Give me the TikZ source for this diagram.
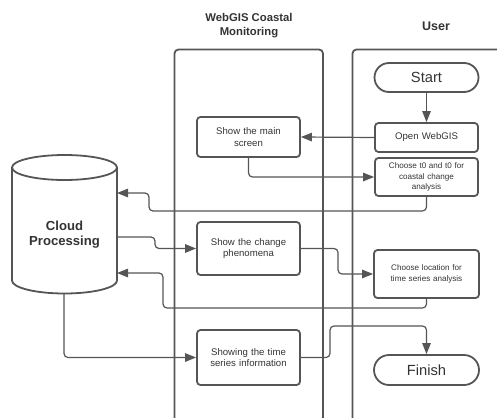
\documentclass[tikz,border=0pt]{standalone}
\usepackage{fontspec}
\setmainfont{Liberation Sans}
\usetikzlibrary{arrows.meta,shapes.misc}
\definecolor{linec}{HTML}{555555}
\definecolor{txt}{HTML}{333333}
\begin{document}
\begin{tikzpicture}[x=1pt,y=-1pt,
  lane/.style={draw=linec, line width=1.8pt, rounded corners=4pt},
  proc/.style={draw=linec, line width=1.8pt, rounded corners=3.5pt, align=center,
    text=txt, inner sep=1pt, minimum width=103pt, text width=98pt,
    font=\fontsize{9.6}{11.5}\selectfont},
  small/.style={font=\fontsize{8.1}{10.8}\selectfont},
  term/.style={rounded rectangle, draw=linec, line width=1.8pt, text=txt,
    minimum width=104pt, inner sep=0pt, font=\fontsize{14.7}{16}\selectfont},
  title/.style={font=\bfseries\fontsize{11.3}{13.5}\selectfont, text=txt, align=center},
  flow/.style={draw=linec, line width=1.2pt, rounded corners=4pt,
    -{Triangle[length=11pt,width=8.5pt]}}]
\useasboundingbox (0,0) rectangle (497,417);
\clip (0,0) rectangle (497,417);

% swim lanes (open at the bottom / right)
\draw[lane] (174.5,440) -- (174.5,49.5) -- (323,49.5) -- (323,440);
\draw[lane] (352.5,440) -- (352.5,49.5) -- (520,49.5) -- (520,440);
\node[title] (lanetitle1) at (249,25.5) {WebGIS Coastal\\Monitoring};
\node[title, font=\bfseries\fontsize{12.5}{14}\selectfont] (lanetitle2) at (436,26) {User};

% cloud processing store
\draw[draw=linec, line width=1.8pt, fill=white]
  (12,167.5) -- (12,280.5) arc[start angle=180, end angle=0, x radius=52.5, y radius=13]
  -- (117,167.5);
\draw[draw=linec, line width=1.8pt] (64.5,167.5) ellipse[x radius=52.5, y radius=12.5];
\node[font=\bfseries\fontsize{13.1}{15}\selectfont, text=txt, align=center]
  (cloud) at (64.5,235) {Cloud\\Processing};
\coordinate (cin1) at (117,193);
\coordinate (cout) at (117,237);
\coordinate (cin2) at (117,273);
\coordinate (cbot) at (64,294);

% user steps
\node[term, minimum height=29pt] (start) at (426.5,77.5) {Start};
\node[proc, minimum height=29pt] (open) at (426.5,137.5) {Open WebGIS};
\node[proc, small, minimum height=38pt] (t0) at (426.5,177) {Choose t0 and t0 for\\coastal change\\analysis};
\node[proc, small, minimum height=48pt, minimum width=105pt] (loc) at (426.5,274) {Choose location for\\time series analysis};
\node[term, minimum height=30pt, minimum width=105pt] (finish) at (426.5,370) {Finish};

% webgis steps
\node[proc, minimum height=40pt] (main) at (248.5,137) {Show the main\\screen};
\node[proc, minimum height=53pt] (change) at (248.5,248.5) {Show the change\\phenomena};
\node[proc, minimum height=55pt] (ts) at (248.5,357.5) {Showing the time\\series information};

% flow
\draw[flow] (start.south) -- (open.north);
\draw[flow] (open.west) -- (main.east);
\draw[flow] (main.south) |- (t0.west);
\draw[flow] (t0.south) |- (149,211) -- (149,193) -- (cin1);
\draw[flow] (cout) -- (155,237) |- (change.west);
\draw[flow] (change.east) -- (338,248.5) |- (loc.west);
\draw[flow] (loc.south) |- (163,308) -- (163,273) -- (cin2);
\draw[flow] (cbot) |- (ts.west);
\draw[flow] (ts.east) -- (330,357.5) |- (426.5,326) -- (finish.north);
\end{tikzpicture}
\end{document}
